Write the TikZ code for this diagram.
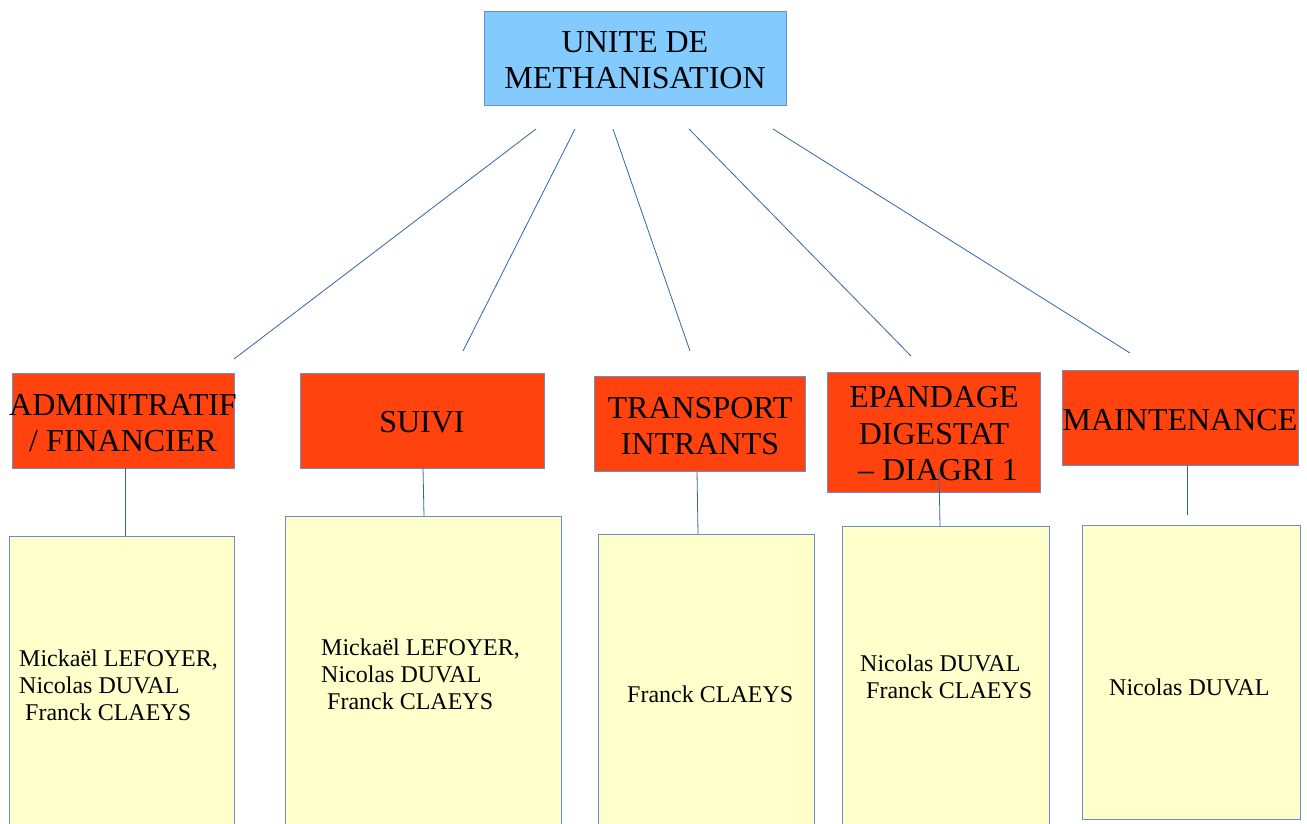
\documentclass[tikz,border=0pt]{standalone}
\usepackage{fontspec}
\setmainfont{Liberation Serif}
\definecolor{lineblue}{HTML}{3465A4}
\definecolor{boxborder}{HTML}{6A8FC4}
\definecolor{topfill}{HTML}{83CAFF}
\definecolor{redfill}{HTML}{FF420E}
\definecolor{yelfill}{HTML}{FFFFCC}
\tikzset{
  topbox/.style={draw=boxborder, line width=0.9pt, fill=topfill, rectangle, inner sep=0pt},
  redbox/.style={draw=boxborder, line width=0.9pt, fill=redfill, rectangle, inner sep=0pt},
  yelbox/.style={draw=boxborder, line width=0.9pt, fill=yelfill, rectangle, inner sep=0pt},
  headtext/.style={align=center, inner sep=0pt, font=\fontsize{32}{36.5}\selectfont},
  nametext/.style={align=left, anchor=west, inner sep=0pt, font=\fontsize{24}{27}\selectfont},
  conn/.style={draw=lineblue, line width=0.8pt}
}
\begin{document}
\begin{tikzpicture}[x=1pt,y=-1pt]
\useasboundingbox (0,0) rectangle (1307,823);
% top box
\node[topbox, minimum width=302pt, minimum height=94pt] (top) at (635,58) {};
\node[headtext] (toptxt) at (635,60) {UNITE DE\\METHANISATION};
% red boxes
\node[redbox, minimum width=222pt, minimum height=95pt] (r1) at (123,420.5) {};
\node[redbox, minimum width=244pt, minimum height=95pt] (r2) at (422,420.5) {};
\node[redbox, minimum width=211pt, minimum height=95pt] (r3) at (699.5,423.5) {};
\node[redbox, minimum width=213pt, minimum height=120pt] (r4) at (933.5,432) {};
\node[redbox, minimum width=236pt, minimum height=95pt] (r5) at (1180,417.5) {};
\node[headtext] (r1t) at (123,423) {ADMINITRATIF\\/ FINANCIER};
\node[headtext] (r2t) at (422,422) {SUIVI};
\node[headtext] (r3t) at (700,426) {TRANSPORT\\INTRANTS};
\node[headtext] (r4t) at (934,434) {EPANDAGE\\DIGESTAT\\\hspace{0.25em}– DIAGRI 1};
\node[headtext] (r5t) at (1180,420) {MAINTENANCE};
% yellow boxes
\node[yelbox, minimum width=225pt, minimum height=296pt] (y1) at (121.5,684) {};
\node[yelbox, minimum width=276pt, minimum height=316pt] (y2) at (423,674) {};
\node[yelbox, minimum width=216pt, minimum height=298pt] (y3) at (706,683) {};
\node[yelbox, minimum width=207pt, minimum height=306pt] (y4) at (945.5,679) {};
\node[yelbox, minimum width=218pt, minimum height=294pt] (y5) at (1191,672) {};
\node[nametext] (y1t) at (19,685) {Mickaël LEFOYER,\\Nicolas DUVAL\\\hspace{0.25em}Franck CLAEYS};
\node[nametext] (y2t) at (321,674) {Mickaël LEFOYER,\\Nicolas DUVAL\\\hspace{0.25em}Franck CLAEYS};
\node[nametext] (y3t) at (627,694) {Franck CLAEYS};
\node[nametext] (y4t) at (860,677) {Nicolas DUVAL\\\hspace{0.25em}Franck CLAEYS};
\node[nametext] (y5t) at (1109,687) {Nicolas DUVAL};
% connector end points
\coordinate (t1) at (536,129); \coordinate (e1) at (234,359);
\coordinate (t2) at (575,129); \coordinate (e2) at (463,351);
\coordinate (t3) at (613,129); \coordinate (e3) at (690,351);
\coordinate (t4) at (689,129); \coordinate (e4) at (911,356);
\coordinate (t5) at (773,129); \coordinate (e5) at (1130,353);
\draw[conn] (t1) -- (e1);
\draw[conn] (t2) -- (e2);
\draw[conn] (t3) -- (e3);
\draw[conn] (t4) -- (e4);
\draw[conn] (t5) -- (e5);
\coordinate (v1a) at (125,468); \coordinate (v1b) at (125,536);
\coordinate (v2a) at (423,468); \coordinate (v2b) at (424,516);
\coordinate (v3a) at (697,471); \coordinate (v3b) at (698,534);
\coordinate (v4a) at (939,468); \coordinate (v4b) at (940,526);
\coordinate (v5a) at (1187,465); \coordinate (v5b) at (1187,515);
\draw[conn] (v1a) -- (v1b);
\draw[conn] (v2a) -- (v2b);
\draw[conn] (v3a) -- (v3b);
\draw[conn] (v4a) -- (v4b);
\draw[conn] (v5a) -- (v5b);
\end{tikzpicture}
\end{document}
